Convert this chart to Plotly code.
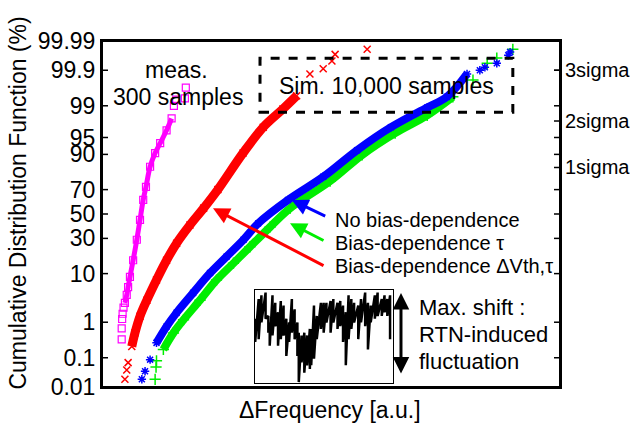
import plotly.graph_objects as go
from statistics import NormalDist

# percent -> probit (normal quantile)
nd = NormalDist()
def probit(p):
	return nd.inv_cdf(p/100.0)

# measured, 300 samples
meas_x = [0.43, 0.43, 0.44, 0.45, 0.47, 0.50, 0.54, 0.57, 0.61, 0.68, 0.76, 0.83, 0.90, 0.96, 1.05, 1.16, 1.27, 1.41, 1.52, 1.57, 1.62, 1.81, 1.83]
meas_pct = [0.35, 0.7, 1.2, 1.6, 2.2, 2.8, 4.1, 5.8, 8.8, 16, 29, 45, 62, 72, 84.5, 90.5, 93.6, 96.4, 98.0, 99.0, 99.3, 99.35, 99.67]

# sim: bias-dependence dVth,tau (red)
red_x = [0.50, 0.54, 0.57, 0.65, 0.72, 0.83, 0.98, 1.19, 1.41, 1.63, 1.92, 2.22, 2.53, 3.08, 3.52, 3.95, 4.25, 4.54, 4.83, 5.02, 5.09, 5.79]
red_pct = [0.019, 0.04, 0.07, 0.22, 0.53, 1.4, 3.2, 7.8, 16, 26.5, 40.6, 55, 70, 90.5, 96.9, 98.8, 99.45, 99.87, 99.91, 99.95, 99.97, 99.98]

# sim: no bias-dependence (blue)
blue_x = [0.87, 0.94, 1.05, 1.19, 1.41, 1.63, 1.99, 2.36, 2.72, 3.09, 3.41, 4.06, 4.83, 5.57, 6.31, 7.10, 7.53, 7.97, 8.25, 8.36, 8.62, 8.87, 8.91]
blue_pct = [0.019, 0.036, 0.087, 0.28, 0.78, 1.7, 4.5, 10.2, 18, 29, 42, 61.8, 78.8, 91.5, 96.9, 98.9, 99.41, 99.87, 99.9, 99.92, 99.94, 99.968, 99.975]

# sim: bias-dependence tau (green)
green_x = [1.16, 1.18, 1.19, 1.34, 1.56, 1.78, 2.14, 2.50, 2.87, 3.23, 3.67, 4.11, 4.98, 5.68, 6.40, 7.10, 7.66, 8.10, 8.41, 8.62, 8.97]
green_pct = [0.019, 0.05, 0.08, 0.18, 0.53, 1.15, 3.2, 7.8, 14.5, 24, 39, 55, 76, 89.8, 95.9, 98.3, 99.41, 99.8, 99.94, 99.96, 99.98]

# RTN waveform envelope (inset)
rtn_t = [0.5,3,5,8,10,11,13,15,17,19,21,23,25,27,29,31,32,34,36,38,40,41,43,45,48,50,52,55,57,60,62,64,66,68,70,72,75,77,80,82,84,87,89,92,94,96,98]
rtn_hi = [69,90,94,97,72,65,94,86,76,88,83,69,65,90,79,65,54,51,54,51,58,58,83,72,86,86,86,88,90,86,88,83,76,94,90,86,83,90,97,86,83,94,97,90,94,90,94]
rtn_lo = [44,47,65,69,54,40,51,61,40,47,51,29,44,54,47,29,1,22,11,19,15,19,26,47,58,54,65,54,65,58,61,44,19,47,58,65,47,65,61,36,65,69,72,72,76,72,47]

pct_ticks = [0.01, 0.1, 1, 10, 30, 50, 70, 90, 95, 99, 99.9, 99.99]
pct_labels = ["0.01", "0.1", "1", "10", "30", "50", "70", "90", "95", "99", "99.9", "99.99"]
sigma_pct = [84.13, 97.72, 99.9]
sigma_labels = ["1sigma", "2sigma", "3sigma"]

FONT = "Liberation Sans, Arial, sans-serif"
XR = [0, 10]
yr = [probit(0.01), probit(99.99)]

def band(xs, ps, lo, hi):
	bx, by = [], []
	for x, p in zip(xs, ps):
		if lo <= p <= hi:
			bx.append(x)
			by.append(probit(p))
	return bx, by

traces = []

# measured
bx, by = band(meas_x, meas_pct, 2.5, 98.5)
traces.append(go.Scatter(x=bx, y=by, mode="lines", line=dict(color="#ff00ff", width=5, shape="spline")))
traces.append(go.Scatter(x=meas_x, y=[probit(p) for p in meas_pct], mode="markers",
						marker=dict(symbol="square-open", size=7, color="#ff00ff", line=dict(width=1.2, color="#ff00ff"))))

# red
bx, by = band(red_x, red_pct, 0.2, 99.5)
traces.append(go.Scatter(x=bx, y=by, mode="lines", line=dict(color="#ff0000", width=9, shape="spline")))
traces.append(go.Scatter(x=red_x, y=[probit(p) for p in red_pct], mode="markers",
						marker=dict(symbol="x-thin-open", size=7, color="#ff0000", line=dict(width=1.5, color="#ff0000"))))

# green (under blue)
bx, by = band(green_x, green_pct, 0.1, 99.5)
traces.append(go.Scatter(x=bx, y=by, mode="lines", line=dict(color="#00ee00", width=8, shape="spline")))
traces.append(go.Scatter(x=green_x, y=[probit(p) for p in green_pct], mode="markers",
						marker=dict(symbol="cross-thin-open", size=8, color="#00ee00", line=dict(width=1.5, color="#00ee00"))))

# blue
bx, by = band(blue_x, blue_pct, 0.2, 99.87)
traces.append(go.Scatter(x=bx, y=by, mode="lines", line=dict(color="#0000ff", width=8, shape="spline")))
traces.append(go.Scatter(x=blue_x, y=[probit(p) for p in blue_pct], mode="markers",
						marker=dict(symbol="asterisk-open", size=7, color="#0000ff", line=dict(width=1.5, color="#0000ff"))))

# frame of the main plot, drawn along the axis ranges
traces.append(go.Scatter(x=[XR[0], XR[1], XR[1], XR[0], XR[0]], y=[yr[0], yr[0], yr[1], yr[1], yr[0]],
						mode="lines", line=dict(color="black", width=2), cliponaxis=False))

# inside tick marks (left + mirrored right, plus sigma ticks on the right)
tk = (XR[1]-XR[0]) * 6/458
tx, ty = [], []
for p in pct_ticks:
	tx += [XR[0], XR[0]+tk, None, XR[1]-tk, XR[1], None]
	ty += [probit(p), probit(p), None, probit(p), probit(p), None]
for p in sigma_pct:
	tx += [XR[1]-tk, XR[1], None]
	ty += [probit(p), probit(p), None]
traces.append(go.Scatter(x=tx, y=ty, mode="lines", line=dict(color="black", width=1.5), cliponaxis=False))

# sigma axis dummy
traces.append(go.Scatter(x=[None], y=[None], yaxis="y2", showlegend=False))

# inset RTN: zigzag between the upper and lower excursions
zx, zy = [], []
for t, h, l in zip(rtn_t, rtn_hi, rtn_lo):
	zx += [t, t]
	zy += [h, l]
traces.append(go.Scatter(x=zx, y=zy, xaxis="x2", yaxis="y3", mode="lines", line=dict(color="black", width=2.5)))

fig = go.Figure(data=traces)

fig.update_layout(
	width=633, height=425, autosize=False,
	margin=dict(l=102, r=73, t=41, b=38),
	paper_bgcolor="white", plot_bgcolor="white",
	showlegend=False, hovermode=False,
	font=dict(family=FONT, size=23, color="black"),
	xaxis=dict(range=XR, showgrid=False, zeroline=False, showticklabels=False, ticks="",
			   showline=True, linecolor="black", linewidth=2, mirror=True, automargin=False),
	yaxis=dict(range=yr, tickvals=[probit(p) for p in pct_ticks], ticktext=pct_labels,
			   showgrid=False, zeroline=False, ticks="", showline=True, linecolor="black", linewidth=2,
			   mirror=True, automargin=False, tickfont=dict(size=23)),
	yaxis2=dict(range=yr, overlaying="y", side="right", tickvals=[probit(p) for p in sigma_pct],
				ticktext=sigma_labels, showgrid=False, zeroline=False, ticks="", automargin=False,
				tickfont=dict(size=20), ticklabelstandoff=4),
	xaxis2=dict(domain=[0.333, 0.635], anchor="y3", range=[0, 100], showgrid=False, zeroline=False,
				showticklabels=False, ticks="", showline=True, linecolor="black", linewidth=1, mirror=True,
				automargin=False),
	yaxis3=dict(domain=[0.0115, 0.281], anchor="x2", range=[0, 100], showgrid=False, zeroline=False,
				showticklabels=False, ticks="", showline=True, linecolor="black", linewidth=1, mirror=True,
				automargin=False),
)

# dashed box for sim
fig.add_shape(type="rect", xref="paper", yref="paper", x0=0.345, x1=0.897, y0=0.794, y1=0.950,
			  line=dict(color="black", width=3, dash="dash"))

ann = []
def txt(s, x, y, size=23, xanchor="center", angle=0):
	ann.append(dict(text=s, x=x, y=y, xref="paper", yref="paper", showarrow=False,
					xanchor=xanchor, yanchor="middle", textangle=angle, font=dict(size=size)))

txt("Cumulative Distribution Function (%)", -0.1834, 0.530, angle=-90)
txt("\u0394Frequency [a.u.]", 0.497, -0.0655)
txt("meas.", 0.1616, 0.9155)
txt("300 samples", 0.167, 0.8384)
txt("Sim. 10,000 samples", 0.622, 0.869)
txt("No bias-dependence", 0.5044, 0.4827, size=20, xanchor="left")
txt("Bias-dependence \u03c4", 0.5044, 0.4163, size=20, xanchor="left")
txt("Bias-dependence \u0394Vth,\u03c4", 0.5044, 0.35, size=20, xanchor="left")
txt("Max. shift :", 0.6878, 0.2288, size=22, xanchor="left")
txt("RTN-induced", 0.6878, 0.1509, size=22, xanchor="left")
txt("fluctuation", 0.6878, 0.073, size=22, xanchor="left")

def arrow(x, y, ax, ay, color, side="end"):
	ann.append(dict(text="", x=x, y=y, xref="paper", yref="paper", ax=ax, ay=ay,
					showarrow=True, arrowhead=2, arrowsize=1.1, arrowwidth=3, arrowcolor=color,
					arrowside=side))

arrow(0.4142, 0.5406, 35, 17, "#0000ff")
arrow(0.4105, 0.4732, 35, 18, "#00ee00")
arrow(0.2424, 0.5164, 112, 58, "#ff0000")
arrow(0.6528, 0.272, 0, 82, "black", side="end+start")

fig.update_layout(annotations=ann)

fig.write_html("out.html", config={"displayModeBar": False},
			   post_script="document.body.style.margin='0';")
